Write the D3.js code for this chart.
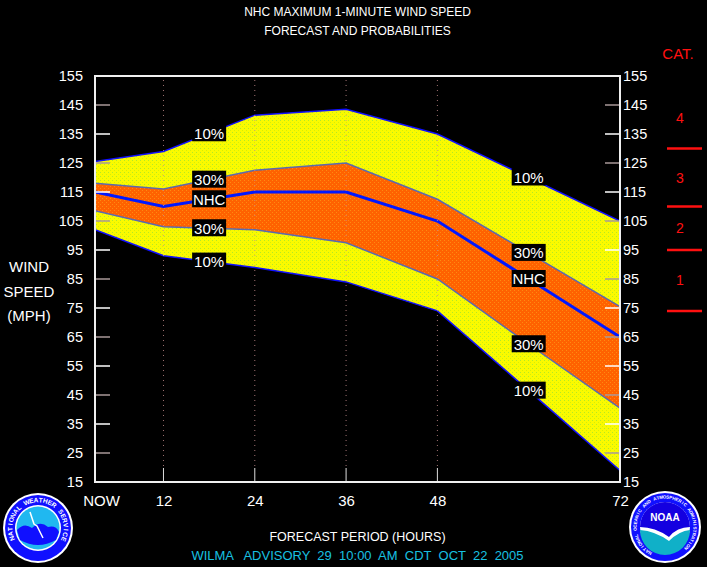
<!DOCTYPE html>
<html>
<head>
<meta charset="utf-8">
<script src="https://cdn.jsdelivr.net/npm/d3@7"></script>
<style>
  html, body { margin: 0; padding: 0; background: #000; }
  svg { display: block; }
  text { font-family: "Liberation Sans", Arial, sans-serif; }
</style>
</head>
<body>
<svg id="chart" width="707" height="567"></svg>
<script>
// forecast hours (NOW = hour 3) and wind speed bands in mph
let hours   = [3, 12, 24, 36, 48, 60, 72];
let upper10 = [125.5, 129, 141.5, 143.5, 135, 120, 105];
let upper30 = [118, 116, 122.5, 125, 112.5, 94, 75.5];
let nhc     = [115, 110, 115, 115, 105, 85, 65];
let lower30 = [108.5, 103, 102, 97.5, 85, 62.5, 40.5];
let lower10 = [102, 93, 89, 84, 74, 46.5, 19];

let xTickValues = [3, 12, 24, 36, 48, 72];
let xTickLabels = ["NOW", "12", "24", "36", "48", "72"];
let gridHours   = [12, 24, 36, 48];
let yTickValues = [15, 25, 35, 45, 55, 65, 75, 85, 95, 105, 115, 125, 135, 145, 155];

let catBounds = [74, 95, 110, 130];
let catLabels = ["1", "2", "3", "4"];
let catMids   = [84.5, 102.5, 120, 140.5];

let labelHours = [18, 60];
let labelSeries = [
  {name: "10%", values: upper10},
  {name: "30%", values: upper30},
  {name: "NHC", values: nhc},
  {name: "30%", values: lower30},
  {name: "10%", values: lower10}
];

let plot = {left: 95, right: 620, top: 76, bottom: 482};

let svg = d3.select("#chart");
svg.append("rect").attr("width", 707).attr("height", 567).attr("fill", "#000");

let x = d3.scaleLinear().domain([3, 72]).range([plot.left, plot.right]);
let y = d3.scaleLinear().domain([15, 155]).range([plot.bottom, plot.top]);

// dithered fills like the original gif
let defs = svg.append("defs");
let yellowPat = defs.append("pattern").attr("id", "yellowDither")
  .attr("width", 4).attr("height", 4).attr("patternUnits", "userSpaceOnUse");
yellowPat.append("rect").attr("width", 4).attr("height", 4).attr("fill", "#fafa00");
yellowPat.append("rect").attr("x", 0).attr("y", 0).attr("width", 1).attr("height", 1).attr("fill", "#b0e828");
yellowPat.append("rect").attr("x", 2).attr("y", 2).attr("width", 1).attr("height", 1).attr("fill", "#d8f000");

let orangePat = defs.append("pattern").attr("id", "orangeDither")
  .attr("width", 4).attr("height", 4).attr("patternUnits", "userSpaceOnUse");
orangePat.append("rect").attr("width", 4).attr("height", 4).attr("fill", "#ff6200");
[[0, 0], [2, 2]].forEach(p => {
  orangePat.append("rect").attr("x", p[0]).attr("y", p[1]).attr("width", 1).attr("height", 1).attr("fill", "#ff8a10");
});

defs.append("clipPath").attr("id", "plotClip")
  .append("rect").attr("x", plot.left).attr("y", plot.top)
  .attr("width", plot.right - plot.left).attr("height", plot.bottom - plot.top);

let rows = hours.map((h, i) => ({
  h: h, u10: upper10[i], u30: upper30[i], n: nhc[i], l30: lower30[i], l10: lower10[i]
}));

let g = svg.append("g").attr("clip-path", "url(#plotClip)");

g.append("path").datum(rows)
  .attr("d", d3.area().x(d => x(d.h)).y0(d => y(d.l10)).y1(d => y(d.u10)))
  .attr("fill", "url(#yellowDither)");
g.append("path").datum(rows)
  .attr("d", d3.area().x(d => x(d.h)).y0(d => y(d.l30)).y1(d => y(d.u30)))
  .attr("fill", "url(#orangeDither)");

// dotted gridlines
svg.selectAll(".grid").data(gridHours).enter().append("line")
  .attr("class", "grid")
  .attr("x1", d => x(d)).attr("x2", d => x(d))
  .attr("y1", plot.top + 4).attr("y2", plot.bottom - 14)
  .attr("stroke", "#c89090").attr("stroke-width", 1)
  .attr("stroke-dasharray", "1,4").attr("opacity", 0.8);
svg.selectAll(".xtick").data(gridHours).enter().append("line")
  .attr("class", "xtick")
  .attr("x1", d => x(d)).attr("x2", d => x(d))
  .attr("y1", plot.bottom - 14).attr("y2", plot.bottom)
  .attr("stroke", "#ddd").attr("stroke-width", 1);

// band edges
let edge = key => d3.line().x(d => x(d.h)).y(d => y(d[key]));
g.append("path").datum(rows).attr("d", edge("u10")).attr("fill", "none").attr("stroke", "#1010ff").attr("stroke-width", 1.5);
g.append("path").datum(rows).attr("d", edge("l10")).attr("fill", "none").attr("stroke", "#1010ff").attr("stroke-width", 1.5);
g.append("path").datum(rows).attr("d", edge("u30")).attr("fill", "none").attr("stroke", "#5a6ab0").attr("stroke-width", 1.5);
g.append("path").datum(rows).attr("d", edge("l30")).attr("fill", "none").attr("stroke", "#5a6ab0").attr("stroke-width", 1.5);
g.append("path").datum(rows).attr("d", edge("n")).attr("fill", "none").attr("stroke", "#0018ff").attr("stroke-width", 3);

// inner y tick marks
let tickColor = d => ((d - 15) / 10) % 2 === 1 ? "#a89898" : "#ffffff";
svg.selectAll(".ltick").data(yTickValues.slice(1, -1)).enter().append("line")
  .attr("x1", plot.left).attr("x2", plot.left + 15)
  .attr("y1", d => y(d)).attr("y2", d => y(d))
  .attr("stroke", tickColor).attr("stroke-width", 1.5);
svg.selectAll(".rtick").data(yTickValues.slice(1, -1)).enter().append("line")
  .attr("x1", plot.right - 15).attr("x2", plot.right)
  .attr("y1", d => y(d)).attr("y2", d => y(d))
  .attr("stroke", tickColor).attr("stroke-width", 1.5);

// frame
svg.append("rect")
  .attr("x", plot.left).attr("y", plot.top)
  .attr("width", plot.right - plot.left).attr("height", plot.bottom - plot.top)
  .attr("fill", "none").attr("stroke", "#f0f0f0").attr("stroke-width", 2);

// probability labels in black boxes
labelHours.forEach(h => {
  labelSeries.forEach(s => {
    let v = d3.scaleLinear().domain(hours).range(s.values)(h);
    let lg = svg.append("g").attr("transform", `translate(${x(h)},${y(v)})`);
    lg.append("rect").attr("x", -17).attr("y", -9).attr("width", 34).attr("height", 17).attr("fill", "#000");
    lg.append("text").attr("text-anchor", "middle").attr("dy", "0.36em")
      .attr("fill", "#fff").attr("font-size", 15).text(s.name);
  });
});

// axes
let styleAxis = sel => {
  sel.select(".domain").remove();
  sel.selectAll("text").attr("fill", "#fff").attr("font-size", 14.5)
    .attr("font-family", "'Liberation Sans', Arial, sans-serif");
};
svg.append("g").attr("transform", `translate(${plot.left},0)`)
  .call(d3.axisLeft(y).tickValues(yTickValues).tickSize(0).tickPadding(12))
  .call(styleAxis);
svg.append("g").attr("transform", `translate(${plot.right},0)`)
  .call(d3.axisRight(y).tickValues(yTickValues).tickSize(0).tickPadding(3))
  .call(styleAxis);
svg.append("g").attr("transform", `translate(0,${plot.bottom})`)
  .call(d3.axisBottom(x).tickValues(xTickValues).tickFormat((d, i) => xTickLabels[i]).tickSize(0).tickPadding(13))
  .call(styleAxis)
  .selectAll("text").attr("font-size", 15).attr("dx", d => d === 3 ? 6 : 0);

// titles
let centerX = (plot.left + plot.right) / 2;
svg.append("text").attr("x", centerX).attr("y", 16).attr("text-anchor", "middle")
  .attr("fill", "#fff").attr("font-size", 12).text("NHC MAXIMUM 1-MINUTE WIND SPEED");
svg.append("text").attr("x", centerX).attr("y", 35).attr("text-anchor", "middle")
  .attr("fill", "#fff").attr("font-size", 12).text("FORECAST AND PROBABILITIES");

svg.append("text").attr("x", centerX).attr("y", 541).attr("text-anchor", "middle")
  .attr("fill", "#fff").attr("font-size", 12.5).text("FORECAST PERIOD (HOURS)");
svg.append("text").attr("x", centerX).attr("y", 560).attr("text-anchor", "middle")
  .attr("fill", "#18c0e0").attr("font-size", 13).style("white-space", "pre")
  .text("WILMA   ADVISORY  29  10:00  AM  CDT  OCT  22  2005");

["WIND", "SPEED", "(MPH)"].forEach((t, i) => {
  svg.append("text").attr("x", 29).attr("y", 272 + i * 24.5).attr("text-anchor", "middle")
    .attr("fill", "#fff").attr("font-size", 15).text(t);
});

// saffir-simpson categories
svg.append("text").attr("x", 678).attr("y", 59).attr("text-anchor", "middle")
  .attr("fill", "#ff1010").attr("font-size", 15).text("CAT.");
svg.selectAll(".catline").data(catBounds).enter().append("line")
  .attr("x1", 667).attr("x2", 702)
  .attr("y1", d => y(d)).attr("y2", d => y(d))
  .attr("stroke", "#ff1010").attr("stroke-width", 2.5);
svg.selectAll(".catnum").data(catLabels).enter().append("text")
  .attr("x", 680).attr("y", (d, i) => y(catMids[i])).attr("dy", "0.36em")
  .attr("text-anchor", "middle").attr("fill", "#ff1010").attr("font-size", 14)
  .text(d => d);

// ring lettering, one glyph at a time
let ringText = (sel, str, r, startDeg, stepDeg, size, color) => {
  str.split("").forEach((ch, i) => {
    let a = startDeg + i * stepDeg;
    let rad = (a - 90) * Math.PI / 180;
    sel.append("text")
      .attr("transform", `translate(${r * Math.cos(rad)},${r * Math.sin(rad)}) rotate(${a})`)
      .attr("text-anchor", "middle").attr("dy", "0.35em")
      .attr("font-size", size).attr("font-weight", "bold").attr("fill", color)
      .text(ch);
  });
};

// NWS logo
let nws = svg.append("g").attr("transform", "translate(38,528)");
nws.append("circle").attr("r", 35).attr("fill", "#fff");
nws.append("circle").attr("r", 33).attr("fill", "#1010ff");
nws.append("circle").attr("r", 23).attr("fill", "#fff");
nws.append("circle").attr("r", 21.5).attr("fill", "#20b8f0");
nws.append("path").attr("d", "M-21,2 Q-14,-6 -6,0 Q2,-8 10,-1 Q18,-3 21,4 L18,12 Q0,22 -18,12 Z").attr("fill", "#1010ff");
nws.append("path").attr("d", "M-8,-16 L-4,-4 L-1,-2 L5,10").attr("fill", "none").attr("stroke", "#fff").attr("stroke-width", 1.5);
ringText(nws, "NATIONAL WEATHER SERVICE", 28, -112, 9.8, 6.5, "#fff");

// NOAA logo
let noaa = svg.append("g").attr("transform", "translate(665,527)");
noaa.append("circle").attr("r", 36).attr("fill", "#fff");
noaa.append("circle").attr("r", 34).attr("fill", "#1010ff");
noaa.append("circle").attr("r", 25).attr("fill", "#fff");
noaa.append("path").attr("d", "M-25,0 A25,25 0 0,1 25,0 Q12,0 4,10 Q-10,0 -25,0 Z").attr("fill", "#1400e0");
noaa.append("path").attr("d", "M-25,3 Q-10,4 4,14 Q14,4 25,3 A25,25 0 0,1 -25,3 Z").attr("fill", "#10b0c8");
noaa.append("text").attr("y", -6).attr("text-anchor", "middle").attr("fill", "#fff")
  .attr("font-size", 10).attr("font-weight", "bold").text("NOAA");
ringText(noaa, "NATIONAL OCEANIC AND ATMOSPHERIC ADMINISTRATION", 30, -150, 6.2, 4.5, "#fff");
</script>
</body>
</html>
